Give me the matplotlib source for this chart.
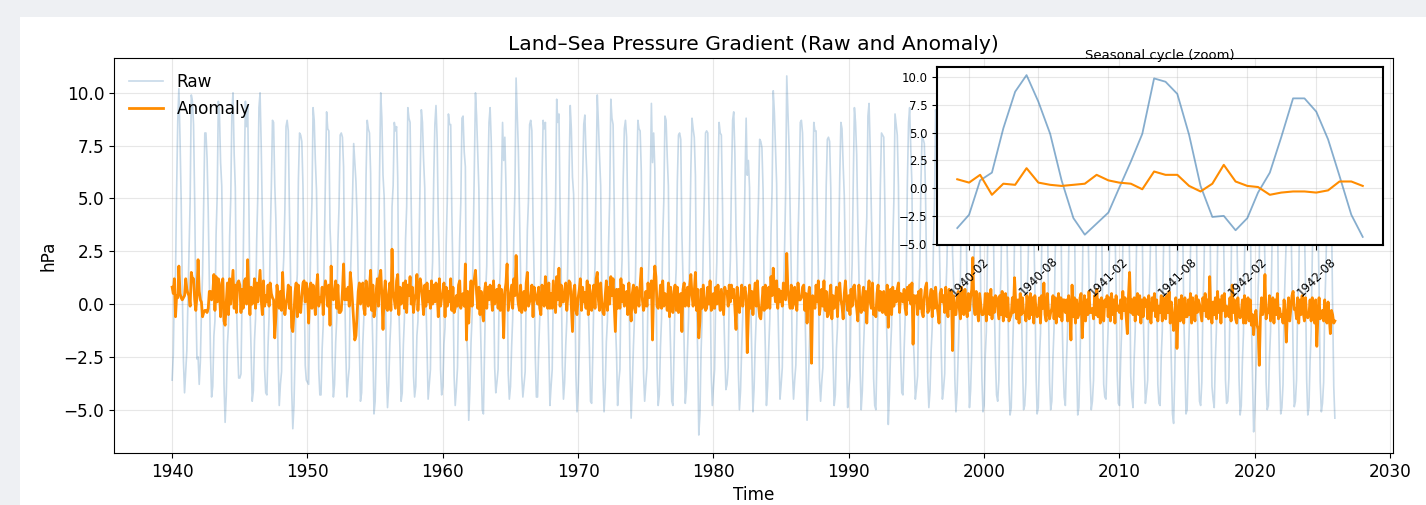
import numpy as np
import pandas as pd
import matplotlib
matplotlib.use("Agg")
import matplotlib.pyplot as plt
import matplotlib.dates as mdates
from matplotlib.patches import Rectangle

# ---------------- Data ----------------
first_year = 1940
n_zoom = 36  # months shown in the inset

# mean seasonal cycle, Jan..Dec (hPa)
climatology = [-4.4, -2.9, -0.5, 2.0, 5.0, 8.4, 8.4, 7.3, 4.6, 0.5, -3.0, -4.6]

# monthly anomalies (hPa), one row per year, Jan..Dec
anomaly_rows = [
    [0.8, 0.5, 1.2, -0.6, 0.4, 0.3, 1.8, 0.5, 0.3, 0.2, 0.3, 0.4],         # 1940
    [1.2, 0.7, 0.5, 0.4, -0.1, 1.5, 1.2, 1.2, 0.2, -0.3, 0.4, 2.1],
    [0.6, 0.2, 0.1, -0.6, -0.4, -0.3, -0.3, -0.4, -0.2, 0.6, 0.6, 0.2],
    [0.5, 1.4, -0.3, 1.3, 0.1, 1.2, 0.6, -0.6, 1.0, 1.2, -0.8, -1.0],
    [0.1, 1.0, -0.5, 1.2, 0.0, 0.8, 1.6, -0.2, 0.9, -0.4, 1.0, 1.1],
    [0.9, -0.4, 0.7, -0.2, 1.1, 1.2, 0.0, 2.1, 0.4, -0.5, 0.8, 0.0],       # 1945
    [0.3, 1.2, -0.2, 1.0, 0.1, 0.9, 1.6, 0.2, -0.5, 1.1, -0.1, 0.4],
    [0.1, 0.9, -0.1, 1.0, 0.5, 0.3, 0.2, -1.6, -0.6, 0.9, 0.3, -0.2],
    [0.6, -0.3, 1.5, 0.2, -0.5, 0.0, 0.3, 0.9, -0.2, 0.8, -1.1, -1.3],
    [-0.4, 0.6, 1.0, -0.6, 0.9, -0.3, -0.4, 0.4, 1.0, 1.1, 0.1, 1.0],
    [0.7, -0.9, 0.5, 1.0, -0.2, 0.9, 0.3, -0.5, 0.8, 1.4, -0.1, 0.3],      # 1950
    [0.1, 0.8, -0.5, 0.6, 1.1, 0.7, -0.1, 0.9, -1.0, 1.8, 0.4, 0.2],
    [0.6, 1.1, -0.2, 0.9, -0.4, -0.4, -0.3, 0.6, 1.9, 0.2, 0.7, 0.2],
    [0.8, -0.1, 1.5, 0.9, 0.1, -0.8, -1.7, -1.5, -0.5, 0.6, 1.0, 0.0],
    [0.2, 1.0, -0.2, -0.5, 1.1, 0.3, -0.1, 0.8, 1.6, -0.3, 0.9, -0.6],
    [-0.2, 0.7, 1.2, -0.1, 1.3, 1.6, 0.4, -1.2, 0.5, 1.1, -0.2, -0.3],     # 1955
    [0.5, 1.0, -0.3, 2.6, 0.6, 0.2, -0.2, 1.1, 1.4, -0.5, 0.8, 0.0],
    [0.2, 1.0, -0.2, 1.1, -0.4, 0.9, 0.4, 1.3, 0.0, 0.8, -0.4, 0.2],
    [0.5, 1.4, -0.3, 0.7, 1.2, 0.8, 0.2, -0.5, 0.9, -0.1, 1.0, 0.1],
    [0.6, -0.2, 1.1, 0.0, 0.9, 0.1, 1.0, 0.5, -0.6, 1.2, -0.1, 0.3],
    [0.5, 1.0, -0.6, 0.8, -0.1, 0.6, 0.1, 1.2, -0.3, 0.8, -0.4, -0.2],     # 1960
    [0.4, -0.1, 0.9, 1.1, -0.2, 0.4, 0.5, -0.1, 1.9, -1.7, 0.6, -0.9],
    [0.4, 1.1, -0.1, 0.9, 1.2, 1.6, 0.5, -0.2, 0.8, -0.5, 0.6, -0.4],
    [-0.8, 0.6, 1.0, -0.2, 0.8, 0.2, 0.9, 0.4, -0.3, 1.1, 0.0, 0.4],
    [0.7, -0.2, 0.9, -0.3, 0.7, 0.2, -1.6, 0.6, 1.0, 1.9, -0.3, 0.1],
    [0.5, 0.9, -0.2, 1.2, 0.4, 2.3, 0.6, 0.0, -0.3, 0.9, -0.4, 0.2],       # 1965
    [0.6, -0.3, 1.0, 1.5, -0.1, 0.1, 0.3, 0.9, -0.6, 0.8, 0.5, 0.2],
    [0.0, 0.8, -0.2, -0.5, 0.9, 0.3, -0.1, 1.3, 0.6, -0.2, 1.0, -0.2],
    [0.5, -0.2, 1.1, 0.3, -0.4, 1.3, 0.2, 1.7, -0.1, 0.9, 0.1, 0.1],
    [0.7, 1.0, -0.3, 0.5, 1.1, 1.0, -0.1, -1.3, 0.6, 0.9, -0.3, -0.5],
    [0.3, 0.7, 1.2, -0.3, 0.8, 0.1, 0.55, -0.2, 1.1, -0.5, 0.9, 0.0],      # 1970
    [-0.3, 0.6, 0.9, -0.2, 1.2, 1.5, 0.2, -0.3, 1.0, 0.1, -0.4, -0.5],
    [0.4, 1.1, -0.3, 0.8, 0.0, 1.3, 0.4, 1.2, -0.1, -1.3, 0.7, -0.2],
    [0.7, -0.2, 1.2, 0.1, 0.9, -0.1, 0.3, 0.6, -0.5, 1.0, -0.1, -0.8],
    [0.5, 0.9, -0.2, -0.4, 0.8, 0.3, -0.1, 0.9, 1.7, 0.2, -0.3, 0.0],
    [0.6, -0.1, 1.0, 0.3, 0.6, 1.1, -1.7, 0.8, 1.8, 1.3, -0.1, -0.2],      # 1975
    [0.1, 0.9, -0.2, 1.1, -0.1, 0.5, 0.3, -0.3, 1.0, -0.6, 0.8, 0.0],
    [-0.4, 0.6, 0.9, -0.3, 0.8, -0.4, -0.3, 0.5, -1.3, 0.7, 1.0, -0.1],
    [0.4, 0.8, -0.1, 0.9, 1.4, 0.4, -0.1, 0.6, 1.5, -0.3, 0.7, -1.6],
    [-0.8, 0.7, -0.2, 0.9, 0.3, -0.3, -0.2, 0.8, 0.0, 1.1, -0.3, -0.2],
    [0.5, -0.2, 0.8, 0.0, 0.9, 0.2, -0.3, 0.7, 0.1, -0.5, 0.8, 0.55],      # 1980
    [0.6, -0.1, 0.9, 0.1, 0.9, 0.3, 0.7, -0.2, -1.2, 0.8, -0.1, -0.4],
    [0.3, 0.9, -0.1, 0.5, 0.8, 0.4, -2.3, -0.5, 0.9, -0.2, 0.6, -0.5],
    [0.4, 1.0, -0.1, 1.1, 0.0, -0.6, -0.7, 0.1, 0.8, -0.3, 0.9, -0.2],
    [0.5, 0.8, -0.2, 1.3, 0.4, 1.7, 0.7, 0.1, 1.1, -0.2, 0.7, 0.1],
    [0.6, -0.1, 1.0, 0.4, 0.2, 2.4, 0.7, 0.2, -0.2, 0.9, -0.2, 0.1],       # 1985
    [0.8, 0.0, -0.3, 1.0, 0.2, 0.2, 0.3, 0.8, 0.9, -0.3, 0.5, -0.9],
    [0.3, 0.8, 0.0, -2.8, 0.4, 0.2, -0.2, 0.9, 0.1, 1.1, -0.5, 0.0],
    [0.7, -0.1, 1.1, -0.3, 0.6, -0.6, -0.5, 0.4, 0.9, -0.7, 0.4, -0.2],
    [0.1, 0.8, -0.6, 0.6, 1.0, 0.2, -0.1, -0.7, 0.5, 1.1, 0.2, -0.3],
    [0.4, -0.5, 0.7, -0.1, 0.8, 0.9, 0.2, -0.2, -0.8, 0.9, 0.0, -0.4],     # 1990
    [0.3, 0.8, -0.3, 0.6, -0.9, 0.5, 1.1, 0.1, -0.2, 1.0, -0.5, -0.2],
    [-0.6, 0.5, 0.9, -0.3, 0.6, -0.3, -0.4, 0.6, -0.1, -0.5, 0.9, -1.1],
    [0.1, 0.7, -0.5, 0.8, -0.1, 0.6, 0.1, 0.7, 1.0, -0.4, 0.5, 0.4],
    [0.1, 0.7, -0.2, -0.5, 0.8, 0.2, 0.9, 0.0, 1.0, -1.9, 0.4, 0.1],
    [0.4, -0.5, 0.6, -0.2, 0.7, -0.4, -0.6, 0.3, 0.8, 1.0, -0.4, -0.3],    # 1995
    [0.3, 0.7, -0.6, 0.6, -0.2, 0.8, 0.0, -0.4, -0.9, 0.5, 0.7, 0.1],
    [0.4, -0.4, 0.8, -0.1, -0.6, 0.7, -0.2, 0.6, -2.2, 0.4, -0.5, -0.5],
    [0.2, 0.6, -0.2, -0.7, 0.8, 0.1, -0.5, 0.7, -0.2, -0.6, 0.5, -0.3],
    [0.3, 0.7, 2.2, -0.1, -0.5, 0.6, -0.2, -0.8, 0.5, 0.0, -0.5, -0.5],
    [-0.4, 0.5, -0.8, 0.5, -0.1, -0.5, 0.7, -0.7, 0.3, -0.4, 0.4, 0.3],    # 2000
    [-0.2, -0.7, 0.4, -0.5, 0.6, -0.8, 0.0, 0.5, -0.6, 0.3, -0.8, -0.65],
    [-0.5, 0.3, -0.4, 1.25, 0.1, -0.7, 0.2, -0.9, 0.5, -0.5, 0.3, -0.4],
    [-0.4, -0.8, 0.4, -0.1, -0.7, 0.5, -0.5, 0.3, -0.9, 0.4, -0.2, -0.6],
    [-0.5, 0.3, -0.9, 0.4, -0.2, 1.0, -0.5, -0.8, 0.5, -0.3, -0.7, -0.4],
    [-0.2, 0.4, -0.7, 0.3, -0.9, 0.0, 0.5, -0.6, 0.3, -0.8, 0.2, 0.2],     # 2005
    [-0.4, 0.2, -0.8, 0.4, -0.3, -1.7, 0.9, -0.6, 0.3, -0.9, 0.2, -0.65],
    [-0.5, 0.3, 0.5, -1.6, -0.4, 0.4, -0.8, 0.2, -0.5, 0.6, -0.4, -0.4],
    [-0.2, -0.7, 0.4, -0.5, 0.7, -0.6, 0.2, -0.9, 0.3, -0.3, -0.8, 0.2],
    [-0.1, 0.4, -0.6, 0.3, -0.8, 0.5, -0.5, 0.2, -0.9, 0.4, -0.3, -0.1],
    [-0.4, 0.2, -0.7, 0.6, -0.3, 0.3, -0.6, -1.4, 0.4, 1.5, -0.4, 0.2],    # 2010
    [-0.5, 0.3, -0.8, 0.2, 0.5, -0.5, 0.4, -0.9, 0.2, -0.6, 0.3, -0.1],
    [0.2, -0.7, 0.4, -0.5, -0.9, 0.3, -0.3, 0.5, -0.6, 0.2, -0.8, -0.1],
    [-0.4, 0.4, -0.8, 0.3, -0.3, -0.7, 0.4, -0.4, 0.6, -0.9, 0.1, -0.6],
    [-1.25, -0.5, 0.3, -2.1, -0.6, 0.2, -0.8, 0.4, -0.4, -0.9, 0.3, -0.6],
    [-0.6, 0.2, -0.5, 0.5, -0.9, 0.3, -0.3, -0.8, 0.4, -0.4, 0.2, 0.0],    # 2015
    [-0.4, -0.8, 0.3, -0.3, 0.5, -0.6, 0.2, -0.7, 1.3, -0.4, -0.9, 0.1],
    [-0.5, 0.3, -0.7, 0.6, -0.4, 0.2, -0.9, 0.4, -0.3, 0.5, -0.6, -0.1],
    [-0.2, -0.6, 0.3, -0.8, 0.9, -0.4, 0.2, -0.7, -0.9, 0.3, -0.5, -0.65],
    [-0.4, 0.2, -0.9, 0.4, -0.9, -0.2, 0.3, -0.8, 0.2, -1.0, -0.5, -1.45],
    [-0.6, -0.3, -1.0, -1.2, -2.9, -0.6, 0.3, -0.5, -0.2, 1.4, -0.7, -0.4],  # 2020
    [-0.4, 0.4, -0.8, -0.2, 0.3, -0.9, 0.2, -0.5, 0.5, -0.7, -0.2, -0.6],
    [-0.5, -0.9, 0.2, -0.6, -1.8, -0.3, 0.3, -0.8, -0.2, 0.4, 0.6, -0.26],
    [-0.2, -0.7, 0.3, -0.9, 0.2, -0.5, 0.4, -0.4, -0.8, 0.3, -0.6, -0.65],
    [-0.5, 0.2, -0.8, 0.3, -0.4, -0.9, 0.2, -2.0, -0.5, 0.3, -0.7, -0.5],
    [-0.3, -0.8, 0.2, -0.5, -0.9, 0.1, -0.6, -1.4, -0.3, -0.5, -0.9, -0.8],  # 2025
]

anomaly = np.array(anomaly_rows, dtype=float).ravel()
dates = pd.date_range(f"{first_year}-01-01", periods=len(anomaly), freq="MS")
raw = np.array(climatology)[dates.month - 1] + anomaly

# ---------------- Figure ----------------
W, H = 1426, 505
fig = plt.figure(figsize=(W / 100, H / 100), dpi=100)
fig.patch.set_facecolor("#eef0f3")
# white card the chart sits on (page background shows top and left)
fig.add_artist(Rectangle((20 / W, 0), 1.0, (H - 17) / H, transform=fig.transFigure,
                         facecolor="white", edgecolor="none", zorder=-1))

ax = fig.add_axes([114 / W, 1 - 453 / H, (1393 - 114) / W, (453 - 58) / H])
ax.plot(dates, raw, color="steelblue", alpha=0.3, lw=1.2, label="Raw")
ax.plot(dates, anomaly, color="darkorange", lw=2.0, label="Anomaly")
ax.set_title("Land\u2013Sea Pressure Gradient (Raw and Anomaly)", fontsize=14.6)
ax.set_xlabel("Time", fontsize=12.2)
ax.set_ylabel("hPa", fontsize=12.2)
ax.tick_params(labelsize=12.2)
ax.grid(True, alpha=0.3)
ax.legend(loc="upper left", frameon=False, fontsize=12.2)

# inset: first three years
ax_in = fig.add_axes([937 / W, 1 - 245 / H, (1383 - 937) / W, (245 - 67) / H])
ax_in.plot(dates[:n_zoom], raw[:n_zoom], color="steelblue", alpha=0.65, lw=1.3)
ax_in.plot(dates[:n_zoom], anomaly[:n_zoom], color="darkorange", lw=1.5)
ax_in.set_title("Seasonal cycle (zoom)", fontsize=9.5)
ax_in.xaxis.set_major_locator(mdates.MonthLocator(bymonth=[2, 8]))
ax_in.xaxis.set_major_formatter(mdates.DateFormatter("%Y-%m"))
ax_in.tick_params(labelsize=8.5)
ax_in.tick_params(axis="x", labelrotation=45)
ax_in.grid(True, alpha=0.3)
for sp in ax_in.spines.values():
    sp.set_linewidth(1.5)

fig.savefig("out.png", dpi=100)
